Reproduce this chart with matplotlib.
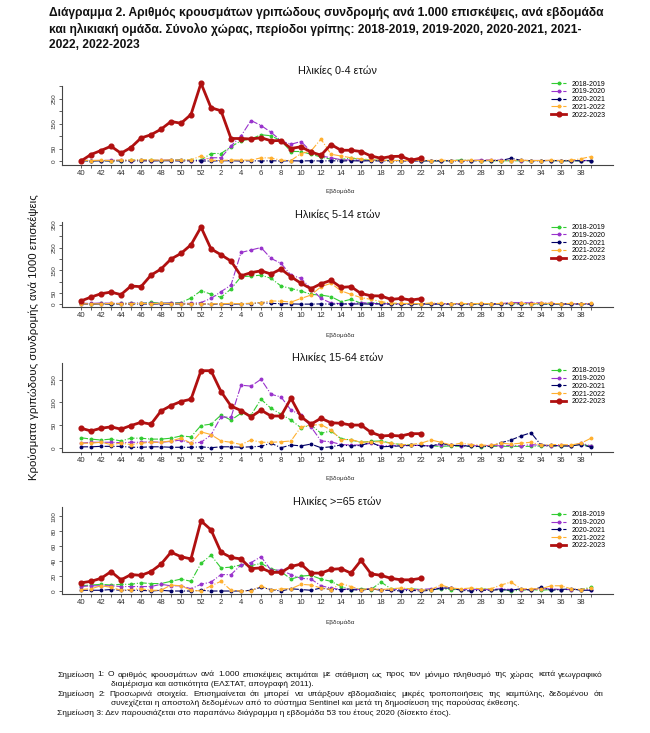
import numpy as np
import matplotlib
matplotlib.use('Agg')
import matplotlib.pyplot as plt

plt.rcParams['font.family'] = ['Liberation Sans', 'DejaVu Sans']

W, H = 650, 733

# weeks of the flu season: 40..52 then 1..39
weeks = list(range(40, 53)) + list(range(1, 40))
seasons = ['2018-2019', '2019-2020', '2020-2021', '2021-2022', '2022-2023']
colors = ['#33cc33', '#9933cc', '#000066', '#ffb030', '#b01010']

# ---- Ηλικίες 0-4 ----
p1_green = [2,1,2,1,2,3,4,3,2,3,5,3, 4,
            30,30,57,81,88,105,101,81,38,38, 27,16,7,6,12,5,4,3,2,2,
            1,1,1,1,2,4,2,1,1,1, 1,1,1,2,1,1,1,1,2]
p1_purple = [3,2,2,3,3,2,3,2,3,4,3,2, 2,
             13,13,60,100,162,142,115,81,67,78, 38,20,13,5,4,3,3,2,2,2,
             1,1,2,2,2,2,2,4,4,3, 2,2,2,2,2,2,2,2,2]
p1_navy = [1,0,1,0,1,0,1,0,1,1,0,1, 0,
           0,1,1,0,1,0,1,0,1,0, 1,0,1,0,1,0,1,0,1,0,
           1,0,1,0,1,0,1,1,2,2, 11,3,1,1,2,1,1,1,1]
p1_orange = [3,2,3,2,4,3,5,4,3,4,3,5, 20,
             3,2,4,4,3,13,12,3,2,30, 40,88,27,20,13,9,5,3,2,2,
             2,3,2,3,2,2,3,2,3,2, 2,3,2,2,3,2,3,9,18]
p1_red = [0,26,42,59,31,54,92,105,127,158,151,186,311,213,201,90,90,88,93,81,
          82,50,57,36,23,66,43,43,38,20,11,18,19,3,12]

# ---- Ηλικίες 5-14 ----
p2_green = [4,3,4,3,4,5,4,9,5,6,8,28, 60,
            45,31,68,122,125,129,115,81,70,59, 44,41,34,12,22,5,7,6,3,3,
            3,2,2,2,3,2,2,2,2,2, 3,3,2,3,2,2,2,2,2]
p2_purple = [5,4,6,5,4,5,6,4,5,6,5,4, 8,
             26,56,85,229,240,251,203,181,129,115, 70,26,6,3,3,8,4,3,2,2,
             2,3,2,2,3,2,2,3,2,3, 8,8,6,7,4,3,2,3,2]
p2_navy = [2,1,2,1,2,1,2,1,2,1,2,1, 2,
           1,2,1,2,3,8,4,3,2,1, 1,2,1,2,1,2,1,2,1,2,
           1,2,1,2,1,2,1,2,1,2, 3,2,3,2,1,2,1,2,1]
p2_orange = [3,2,3,4,3,3,4,3,4,3,3,2, 2,
             3,3,4,3,5,8,15,14,10,26, 41,78,93,60,44,30,22,12,6,4,
             4,3,6,4,3,4,3,4,3,4, 5,4,3,5,4,3,4,3,4]
p2_red = [15,32,47,54,43,81,78,129,156,200,225,263,341,245,219,191,126,140,148,134,
          156,122,93,69,91,106,75,78,48,38,37,22,26,19,25]

# ---- Ηλικίες 15-64 ----
p3_green = [22,19,17,19,15,21,21,19,19,21,26,24, 49,
            52,72,61,76,72,107,87,74,61,44, 50,32,37,20,17,12,14,15,10,7,
            6,5,4,3,4,3,3,2,3,3, 3,3,3,4,3,4,4,8,3]
p3_purple = [10,12,12,12,11,12,12,13,12,14,17,10, 12,
             28,68,67,138,136,151,118,112,83,72, 46,15,13,7,6,6,10,4,5,5,
             5,5,4,7,5,4,5,4,5,4, 5,4,7,5,4,5,4,10,4]
p3_navy = [2,2,3,3,3,1,1,2,2,1,1,1, 2,
           0,2,2,1,2,3,10,0,6,4, 8,0,2,6,4,5,12,2,3,4,
           5,5,3,10,5,5,3,3,3,11, 17,26,33,6,5,4,4,7,1]
p3_orange = [10,10,12,7,10,7,10,12,12,15,21,10, 35,
             29,15,12,7,17,12,12,13,15,46, 50,51,39,18,18,12,13,13,10,7,
             7,10,17,12,6,10,7,6,5,10, 8,10,12,6,7,7,6,10,21]
p3_red = [43,37,43,46,41,49,56,52,81,93,102,107,170,170,124,92,82,68,83,70,
          70,109,68,52,65,55,54,50,50,34,26,27,26,31,31]

# ---- Ηλικίες >=65 ----
p4_green = [7,8,9,8,9,9,11,10,10,13,16,13, 37,
            48,31,32,35,34,37,30,26,16,20, 21,16,13,6,2,3,2,12,3,2,
            3,2,2,3,2,2,2,3,2,2, 0,1,2,1,2,2,2,2,5]
p4_purple = [6,7,7,7,6,6,6,6,9,7,7,3, 9,
             12,22,22,35,38,46,28,28,22,17, 16,7,4,2,3,2,3,2,2,2,
             2,2,3,4,4,2,2,2,2,3, 2,2,2,3,3,2,2,2,2]
p4_navy = [1,1,1,2,1,1,1,0,1,0,0,0, 1,
           0,0,0,0,1,5,2,0,3,2, 1,4,2,2,2,1,3,1,1,0,
           1,0,1,4,4,1,0,1,1,2, 1,3,1,5,1,2,3,1,1]
p4_orange = [2,3,7,5,1,2,3,1,1,8,7,1, 0,
             7,13,1,0,0,7,1,3,3,9, 8,4,2,10,6,2,3,2,3,4,
             3,1,2,8,4,3,4,3,3,8, 12,3,3,3,7,7,3,2,4]
p4_red = [11,13,17,26,15,22,21,26,36,52,46,43,94,82,52,45,43,30,31,25,
          25,33,36,24,24,29,30,24,41,23,21,17,15,15,17]

titles = ['Ηλικίες 0-4 ετών', 'Ηλικίες 5-14 ετών', 'Ηλικίες 15-64 ετών', 'Ηλικίες >=65 ετών']
panels = [
    [p1_green, p1_purple, p1_navy, p1_orange, p1_red],
    [p2_green, p2_purple, p2_navy, p2_orange, p2_red],
    [p3_green, p3_purple, p3_navy, p3_orange, p3_red],
    [p4_green, p4_purple, p4_navy, p4_orange, p4_red],
]
yticks = [list(range(0, 301, 50)), list(range(0, 351, 50)),
          list(range(0, 151, 50)), list(range(0, 101, 20))]
ytick_hidden = [[100, 200, 300], [100, 200, 300], [], []]

# layout in pixels: left, top, right, bottom, ylo, yhi, title y, xlabel y, legend first row y
layout = [
    (62, 86.0, 613, 164.5, -14, 300, 71, 191, 84.3),
    (62, 221.7, 613, 307.3, -13, 365, 215, 335, 227.7),
    (62, 363.0, 613, 451.7, -8.8, 187, 358, 478, 371),
    (62, 506.7, 613, 594.3, -4.4, 113, 502, 622, 515),
]

def box(l, t, r, b):
    return [l/W, 1-b/H, (r-l)/W, (b-t)/H]

fig = plt.figure(figsize=(W/100, H/100), dpi=100)
fig.patch.set_facecolor('white')

x = np.arange(len(weeks))
gray = '#333333'

for i in range(4):
    l, t, r, b, ylo, yhi, ty, xly, ly = layout[i]
    ax = fig.add_axes(box(l, t, r, b))
    for j in range(5):
        vals = panels[i][j]
        if j < 4:
            ax.plot(x[:len(vals)], vals, color=colors[j], linestyle='-.', lw=0.8,
                    marker='o', markersize=1.8, label=seasons[j], clip_on=False, zorder=2)
        else:
            ax.plot(x[:len(vals)], vals, color=colors[j], linestyle='-', lw=2.0,
                    marker='o', markersize=3.4, label=seasons[j], clip_on=False, zorder=3)
    ax.set_xlim(-1.9, 53.2)
    ax.set_ylim(ylo, yhi)
    for s in ['top', 'right']:
        ax.spines[s].set_visible(False)
    for s in ['left', 'bottom']:
        ax.spines[s].set_linewidth(0.8)
        ax.spines[s].set_color('#444444')
    ax.set_xticks(x)
    ax.set_xticklabels([str(w) if k % 2 == 0 else '' for k, w in enumerate(weeks)])
    ax.set_yticks(yticks[i])
    ax.set_yticklabels(['' if v in ytick_hidden[i] else str(v) for v in yticks[i]],
                       rotation=90, va='center')
    ax.tick_params(axis='x', length=2.5, width=0.6, pad=1.2, labelsize=5.6,
                   colors='#444444', labelcolor=gray)
    ax.tick_params(axis='y', length=2.5, width=0.6, pad=1.5, labelsize=4.6,
                   colors='#444444', labelcolor=gray)
    ax.patch.set_alpha(0)

    fig.text(337.5/W, 1-ty/H, titles[i], ha='center', va='center', fontsize=7.8, color='#111111')
    fig.text(340/W, 1-xly/H, 'Εβδομάδα', ha='center', va='center', fontsize=4.6, color=gray)

    ax.legend(loc='upper left', bbox_to_anchor=(551/W, 1-(ly-3.5)/H),
              bbox_transform=fig.transFigure, frameon=False, fontsize=5,
              handlelength=2.2, handletextpad=0.7, labelspacing=0.1,
              borderpad=0, borderaxespad=0)

fig.text(34/W, 1-337/H, 'Κρούσματα γριπώδους συνδρομής ανά 1000 επισκέψεις',
         rotation=90, ha='center', va='center', fontsize=8.2, color='#111111')

title_lines = [
    'Διάγραμμα 2. Αριθμός κρουσμάτων γριπώδους συνδρομής ανά 1.000 επισκέψεις, ανά εβδομάδα',
    'και ηλικιακή ομάδα. Σύνολο χώρας, περίοδοι γρίπης: 2018-2019, 2019-2020, 2020-2021, 2021-',
    '2022, 2022-2023',
]
for k, line in enumerate(title_lines):
    fig.text(49/W, 1-(13+16*k)/H, line, ha='left', va='center', fontsize=8.65,
             fontweight='bold', color='#111111')

# footnotes; lines flagged True are justified to the right edge
note_size = 6.05
notes = [
    (57, 675, True, 'Σημείωση 1: Ο αριθμός κρουσμάτων ανά 1.000 επισκέψεις εκτιμάται με στάθμιση ως προς τον μόνιμο πληθυσμό της χώρας κατά γεωγραφικό'),
    (111, 684.3, False, 'διαμέρισμα και αστικότητα (ΕΛΣΤΑΤ, απογραφή 2011).'),
    (57, 694.3, True, 'Σημείωση 2: Προσωρινά στοιχεία. Επισημαίνεται ότι μπορεί να υπάρξουν εβδομαδιαίες μικρές τροποποιήσεις της καμπύλης, δεδομένου ότι'),
    (111, 703.7, False, 'συνεχίζεται η αποστολή δεδομένων από το σύστημα Sentinel και μετά τη δημοσίευση της παρούσας έκθεσης.'),
    (57, 713.7, False, 'Σημείωση 3: Δεν παρουσιάζεται στο παραπάνω διάγραμμα η εβδομάδα 53 του έτους 2020 (δίσεκτο έτος).'),
]
right_edge = 603
renderer = fig.canvas.get_renderer()
for nx, ny, just, txt in notes:
    if not just:
        fig.text(nx/W, 1-ny/H, txt, ha='left', va='center', fontsize=note_size, color='#111111')
        continue
    words = txt.split(' ')
    items = []
    total = 0
    for wd in words:
        t = fig.text(0, 1-ny/H, wd, ha='left', va='center', fontsize=note_size, color='#111111')
        wpx = t.get_window_extent(renderer).width
        items.append((t, wpx))
        total += wpx
    gap = (right_edge - nx - total) / (len(words) - 1)
    cx = nx
    for t, wpx in items:
        t.set_x(cx/W)
        cx += wpx + gap

plt.savefig('out.png', dpi=100, facecolor='white')
